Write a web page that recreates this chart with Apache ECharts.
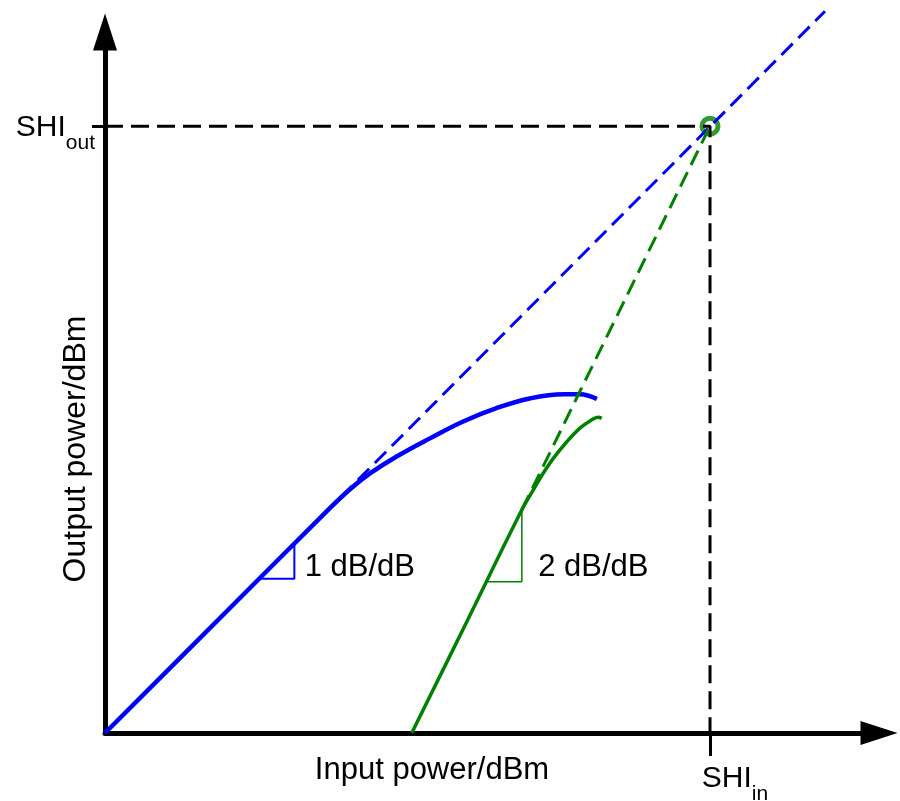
<!DOCTYPE html>
<html>
<head>
<meta charset="utf-8">
<title>SHI</title>
<script src="https://cdn.jsdelivr.net/npm/echarts@6/dist/echarts.min.js"></script>
<style>
html, body { margin: 0; padding: 0; background: #fff; }
#main { width: 900px; height: 801px; }
</style>
</head>
<body>
<div id="main"></div>
<script>
// values, [input, output], SHI point at ~100
var shiIn = 100;
var shiOut = 100.3;
var fundamental = [[0, 0], [20, 20], [37, 37], [40.5, 40.3], [43.8, 42.9], [48.2, 45.7], [53.7, 48.7],
    [59.2, 51.5], [64.7, 53.7], [70.2, 55.3], [75.8, 56], [78.5, 56], [81.3, 55.2]];
var fundamentalExt = [[39, 39], [119, 119.3]];
var harmonic = [[50.7, 0], [59.8, 18.4], [68.9, 36.9], [70.8, 40.2], [72.4, 42.9], [74.1, 45.4],
    [76.3, 48.1], [78.5, 50.4], [80.2, 51.6], [81.5, 52.2], [82.1, 52]];
var harmonicExt = [[68.9, 36.9], [shiIn, shiOut]];
var slope1 = [[25.5, 25.5], [31.3, 25.5], [31.3, 31.3]];
var slope2 = [[63.2, 25], [68.9, 25], [68.9, 36.9]];
var slopeText = ['1 dB/dB', '2 dB/dB'];
var slopeTextAt = [[33, 27.3], [71.6, 27.3]];

var BLUE = '#0000ff';
var GREEN = '#008000';
var FONT = '"Liberation Sans", Arial, sans-serif';

var chart = echarts.init(document.getElementById('main'), null, { renderer: 'canvas' });

function slopeMark(i) {
    return {
        symbol: 'circle',
        symbolSize: 0,
        silent: true,
        label: {
            show: true,
            position: 'right',
            distance: 0,
            formatter: slopeText[i],
            color: '#000',
            fontSize: 31,
            fontFamily: FONT
        },
        data: [{ coord: slopeTextAt[i] }]
    };
}

var option = {
    animation: false,
    backgroundColor: '#fff',
    grid: {
        left: 105,
        right: 21,
        top: 32,
        bottom: 68,
        outerBoundsMode: 'none'
    },
    xAxis: {
        type: 'value',
        min: 0,
        max: 127.93,
        name: 'Input power/dBm',
        nameLocation: 'middle',
        nameGap: 22,
        nameMoveOverlap: false,
        nameTextStyle: {
            color: '#000',
            fontSize: 31,
            fontFamily: FONT,
            padding: [0, 120, 0, 0]
        },
        splitLine: { show: false },
        axisLine: {
            lineStyle: { color: '#000', width: 5 },
            symbol: ['none', 'triangle'],
            symbolSize: [24, 37]
        },
        axisTick: {
            customValues: [shiIn],
            length: 23,
            lineStyle: { color: '#000', width: 3 }
        },
        axisLabel: {
            customValues: [shiIn],
            margin: 31,
            padding: [0, 0, 0, 50],
            formatter: function () { return '{a|SHI}{b|in}'; },
            rich: {
                a: { fontSize: 30, lineHeight: 30, fontFamily: FONT, color: '#000', verticalAlign: 'top' },
                b: { fontSize: 21, lineHeight: 20, fontFamily: FONT, color: '#000', verticalAlign: 'top', padding: [20, 0, 0, 0] }
            }
        }
    },
    yAxis: {
        type: 'value',
        min: 0,
        max: 115.87,
        name: 'Output power/dBm',
        nameLocation: 'middle',
        nameGap: 13,
        nameMoveOverlap: false,
        nameTextStyle: {
            color: '#000',
            fontSize: 32,
            fontFamily: FONT,
            padding: [0, 133, 0, 0]
        },
        splitLine: { show: false },
        axisLine: {
            lineStyle: { color: '#000', width: 5 },
            symbol: ['none', 'triangle'],
            symbolSize: [24, 37]
        },
        axisTick: {
            customValues: [shiOut],
            length: 13,
            lineStyle: { color: '#000', width: 3 }
        },
        axisLabel: {
            customValues: [shiOut],
            margin: 10,
            formatter: function () { return '{a|SHI}{b|out}'; },
            rich: {
                a: { fontSize: 30, lineHeight: 30, fontFamily: FONT, color: '#000', verticalAlign: 'top', padding: [2, 0, 0, 0] },
                b: { fontSize: 21, lineHeight: 20, fontFamily: FONT, color: '#000', verticalAlign: 'top', padding: [22, 0, 0, 0] }
            }
        }
    },
    series: [
        {
            name: 'SHI lines',
            type: 'line',
            data: [[0, shiOut], [shiIn, shiOut], [shiIn, 0]],
            symbol: 'none',
            lineStyle: { color: '#000', width: 3, type: [18, 8] }
        },
        {
            name: 'SHI point',
            type: 'scatter',
            data: [[shiIn, shiOut]],
            symbol: 'circle',
            symbolSize: 16,
            itemStyle: { color: 'rgba(0,0,0,0)', borderColor: GREEN, borderWidth: 5 }
        },
        {
            name: 'fundamental',
            type: 'line',
            data: fundamental,
            smooth: 0.4,
            symbol: 'none',
            lineStyle: { color: BLUE, width: 4.5 }
        },
        {
            name: 'fundamental ext',
            type: 'line',
            data: fundamentalExt,
            symbol: 'none',
            clip: false,
            lineStyle: { color: BLUE, width: 3, type: [16, 8] }
        },
        {
            name: 'harmonic',
            type: 'line',
            data: harmonic,
            smooth: 0.4,
            symbol: 'none',
            lineStyle: { color: GREEN, width: 3.5 }
        },
        {
            name: 'harmonic ext',
            type: 'line',
            data: harmonicExt,
            symbol: 'none',
            lineStyle: { color: GREEN, width: 3, type: [16, 8] }
        },
        {
            name: 'slope 1',
            type: 'line',
            data: slope1,
            symbol: 'none',
            lineStyle: { color: BLUE, width: 2 },
            markPoint: slopeMark(0)
        },
        {
            name: 'slope 2',
            type: 'line',
            data: slope2,
            symbol: 'none',
            lineStyle: { color: GREEN, width: 1.5 },
            markPoint: slopeMark(1)
        }
    ]
};

chart.setOption(option);
</script>
</body>
</html>
